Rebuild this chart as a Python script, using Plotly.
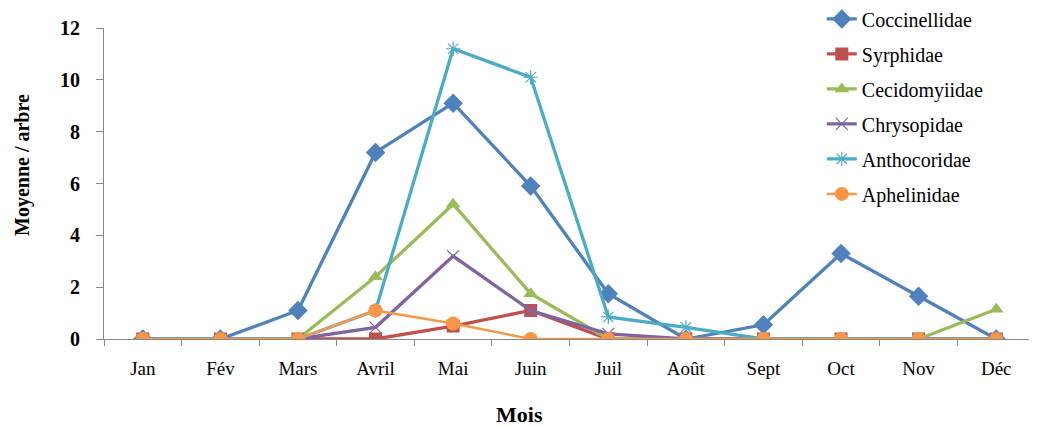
import plotly.graph_objects as go

months = ["Jan", "Fév", "Mars", "Avril", "Mai", "Juin", "Juil", "Août", "Sept", "Oct", "Nov", "Déc"]

coccinellidae = [0, 0, 1.1, 7.2, 9.1, 5.9, 1.75, 0, 0.55, 3.3, 1.65, 0]
syrphidae = [0, 0, 0, 0, 0.5, 1.1, 0, 0, 0, 0, 0, 0]
cecidomyiidae = [0, 0, 0, 2.4, 5.2, 1.75, 0, 0, 0, 0, 0, 1.15]
chrysopidae = [0, 0, 0, 0.45, 3.2, 1.1, 0.2, 0, 0, 0, 0, 0]
anthocoridae = [0, 0, 0, 1.1, 11.2, 10.1, 0.85, 0.45, 0, 0, 0, 0]
aphelinidae = [0, 0, 0, 1.1, 0.6, 0, 0, 0, 0, 0, 0, 0]

series = [
    ("Coccinellidae", coccinellidae, "#4F81BD", "diamond", 15, 3.3),
    ("Syrphidae", syrphidae, "#C0504D", "square", 13, 3.3),
    ("Cecidomyiidae", cecidomyiidae, "#9BBB59", "triangle-up", 13, 3.3),
    ("Chrysopidae", chrysopidae, "#8064A2", "x-thin-open", 12, 3.3),
    ("Anthocoridae", anthocoridae, "#4BACC6", "asterisk-open", 12, 3.3),
    ("Aphelinidae", aphelinidae, "#F79646", "circle", 14, 2.5),
]

fig = go.Figure()
for name, vals, color, sym, size, lw in series:
    marker = dict(symbol=sym, size=size, color=color)
    if sym.endswith("open"):
        marker["line"] = dict(color=color, width=1.2)
    else:
        marker["line"] = dict(width=0)
    fig.add_trace(go.Scatter(
        x=months, y=vals, name=name, mode="lines+markers",
        line=dict(color=color, width=lw), marker=marker,
        legendgroup=name,
    ))

serif = "Liberation Serif, Times New Roman, serif"
fig.update_layout(
    width=1037, height=427,
    margin=dict(l=96, r=10, t=20, b=96, autoexpand=False),
    plot_bgcolor="white", paper_bgcolor="white",
    showlegend=True,
    legend=dict(
        x=0.771, y=1.092, xanchor="left", yanchor="top",
        font=dict(family=serif, size=20, color="black"),
        bgcolor="rgba(0,0,0,0)", tracegroupgap=6, maxheight=1,
    ),
    xaxis=dict(
        type="category", range=[-0.5, 11.5], tickson="boundaries",
        ticks="outside", ticklen=6, tickcolor="#888888",
        showline=True, linecolor="#888888", showgrid=False, zeroline=False,
        tickfont=dict(family=serif, size=19, color="black"),
        ticklabelstandoff=12,
    ),
    yaxis=dict(
        range=[0, 12], dtick=2, ticks="outside", ticklen=7, tickcolor="#888888",
        showline=True, linecolor="#888888", showgrid=False, zeroline=False,
        tickfont=dict(family=serif, size=20, color="black", weight="bold"),
        ticklabelstandoff=12,
    ),
    annotations=[
        dict(text="Moyenne / arbre", textangle=-90, xref="paper", yref="paper",
             x=(22 - 104) / 931, y=(339 - 165) / 311, xanchor="center", yanchor="middle",
             showarrow=False, font=dict(family=serif, size=20, color="black", weight="bold")),
        dict(text="Mois", xref="paper", yref="paper",
             x=(519 - 104) / 931, y=(339 - 414) / 311, xanchor="center", yanchor="middle",
             showarrow=False, font=dict(family=serif, size=22, color="black", weight="bold")),
    ],
)

fig.write_html("out.html")
